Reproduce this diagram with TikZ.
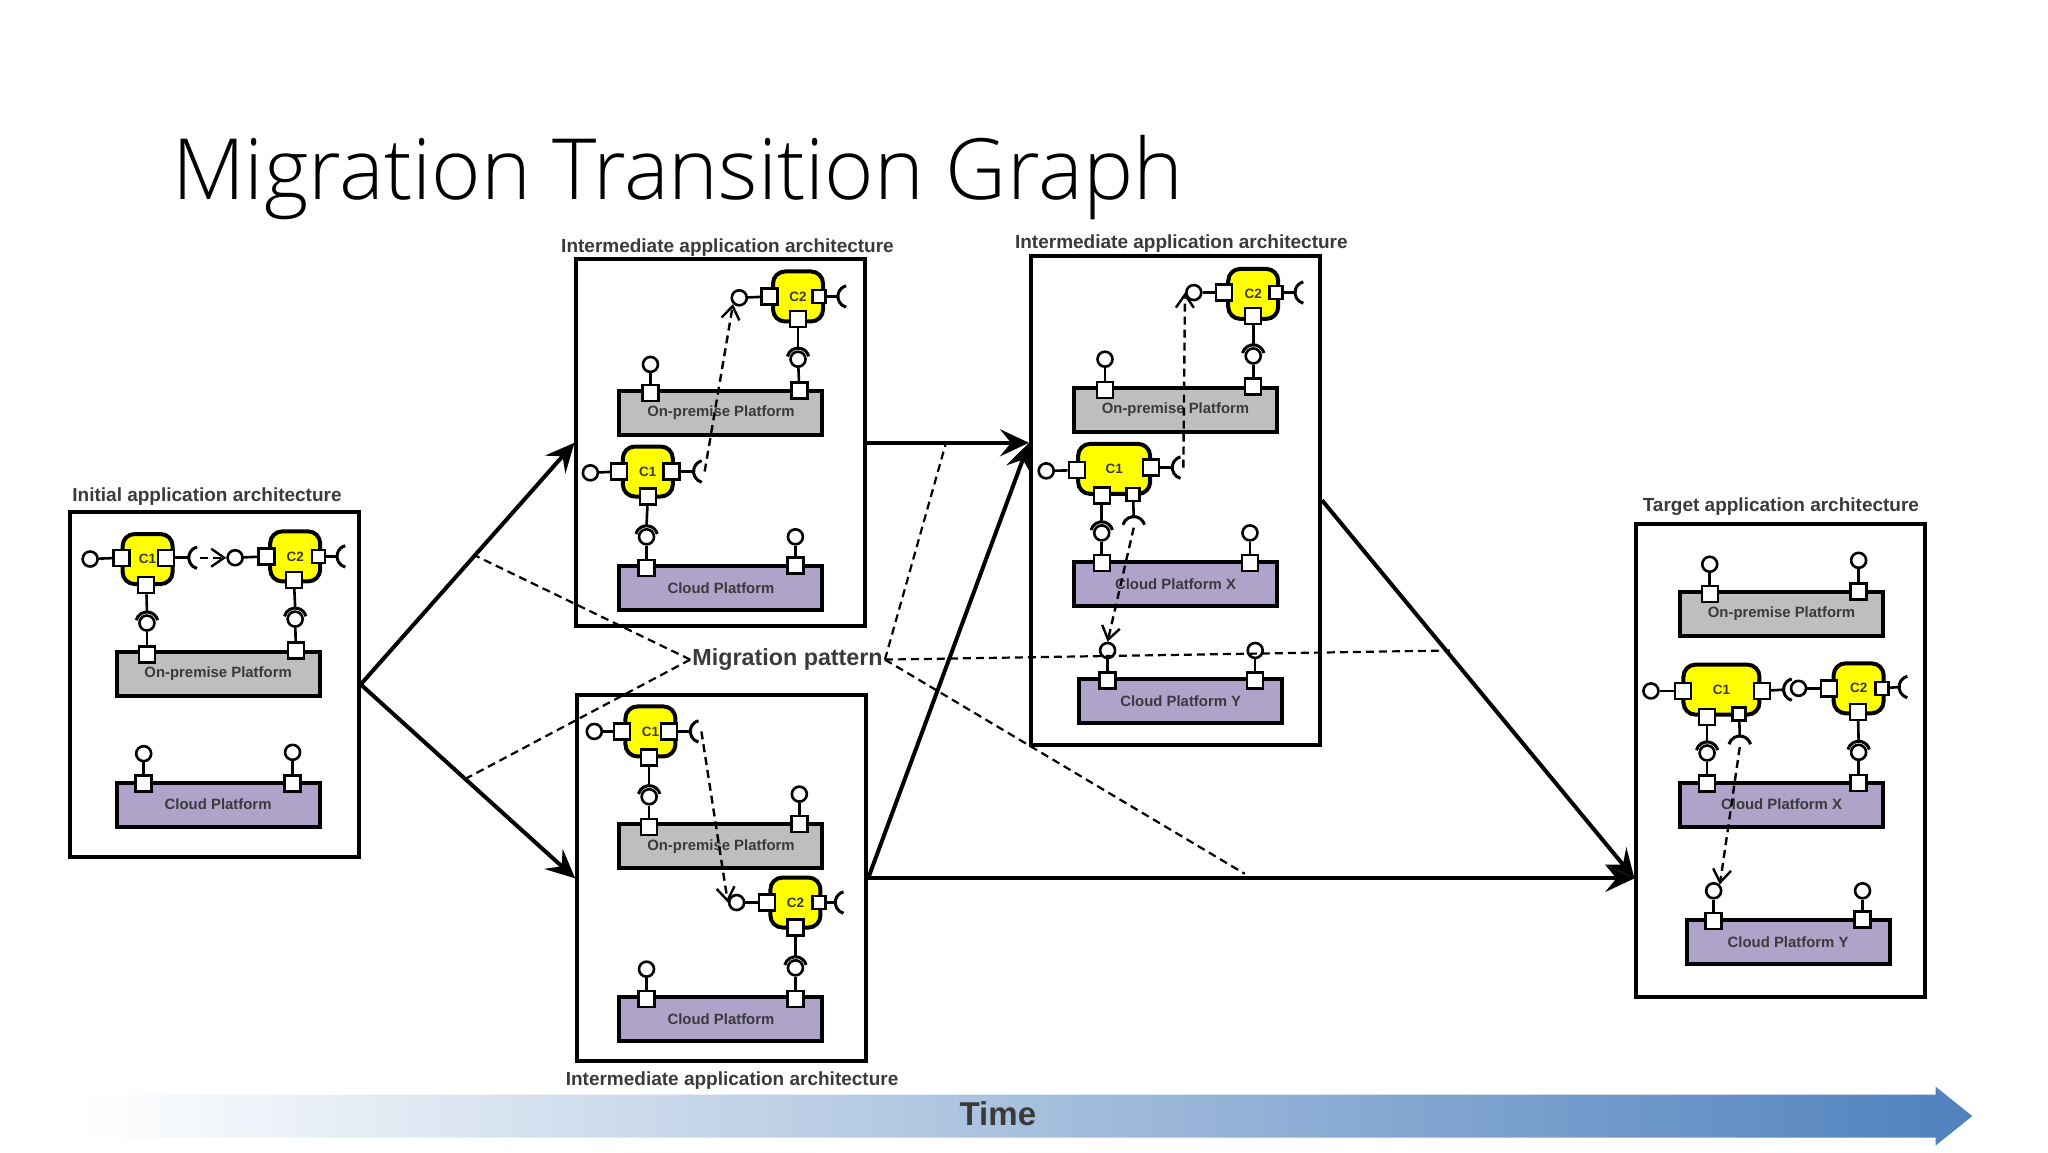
\documentclass[tikz,border=0pt]{standalone}
\usepackage{fontspec}
\setmainfont{Liberation Sans}
\newfontfamily\headfont{Open Sans Light}
\usetikzlibrary{arrows.meta,calc}
\definecolor{gridgray}{HTML}{BEBEBE}
\definecolor{cloudlilac}{HTML}{AFA3C9}
\definecolor{labelgray}{HTML}{3A3A3A}
\definecolor{timeblue}{HTML}{4F81BD}
\definecolor{compyellow}{RGB}{255,255,0}
\tikzset{
  frame/.style={draw,line width=4pt,fill=white,minimum width=289pt},
  archname/.style={font=\bfseries\fontsize{19}{21}\selectfont,text=labelgray},
  onprem/.style={draw,line width=4pt,fill=gridgray,minimum width=203pt,minimum height=44pt,
    font=\bfseries\fontsize{14.9}{16}\selectfont,text=labelgray},
  cloudbox/.style={onprem,fill=cloudlilac},
  comp/.style={draw,line width=4pt,fill=compyellow,rounded corners=12pt,minimum width=50pt,minimum height=50pt,
    font=\bfseries\fontsize{13.5}{15}\selectfont,text=labelgray},
  pinbox/.style={draw,line width=2.4pt,fill=white,minimum size=16pt,inner sep=0pt},
  pinsmall/.style={pinbox,minimum size=13pt},
  ball/.style={draw,circle,line width=2.6pt,fill=white,minimum size=15pt,inner sep=0pt},
  wire/.style={line width=2.6pt},
  move/.style={line width=2.4pt,dash pattern=on 8pt off 5pt,-{Straight Barb[length=13pt,width=18pt]}},
  step line/.style={line width=4pt,-{Stealth[length=29pt,width=27pt,inset=11pt]}},
  pattern line/.style={line width=2.2pt,dash pattern=on 8pt off 5pt},
}
% pin with a ball: name, pin x, pin y, ball x, ball y
\newcommand{\lolli}[6][pinbox]{
  \node[#1] (#2p) at (#3,#4) {};
  \node[ball] (#2b) at (#5,#6) {};
  \draw[wire] (#2p) -- (#2b);
}
% pin with a socket: name, pin x, pin y, socket x, socket y, opening angle
\newcommand{\sockt}[7][pinbox]{
  \node[#1] (#2p) at (#3,#4) {};
  \coordinate (#2s) at (#5,#6);
  \coordinate (#2j) at ([shift={(#7+180:8.5)}]#2s);
  \draw[wire] (#2p) -- (#2j);
  \draw[wire,line width=3pt] ([shift={(#7+105:8.5)}]#2s) arc[start angle=#7+105,end angle=#7+255,radius=8.5];
}
\begin{document}
\begin{tikzpicture}[x=1.30612pt,y=-1.30612pt]
  \useasboundingbox (0,0) rectangle (1568,882);

  \node[anchor=west,font=\headfont\fontsize{84.5}{90}\selectfont] (title) at (129,136) {Migration Transition Graph};

  % time arrow
  \shade[left color=white,right color=timeblue] (60,838) -- (1482,838) -- (1482,832) -- (1510,854.5) -- (1482,877) -- (1482,871) -- (60,871) -- cycle;
  \node[font=\bfseries\fontsize{33}{36}\selectfont,text=labelgray] (time) at (764,853) {Time};

  % the five frames
  \node[frame,minimum height=345pt] (initial) at (164,524) {};
  \node[frame,minimum height=367pt] (interA) at (552,339) {};
  \node[frame,minimum height=366pt] (interB) at (552.5,672.5) {};
  \node[frame,minimum height=489pt] (interC) at (900,383) {};
  \node[frame,minimum height=473pt] (target) at (1363.5,582) {};
  \node[archname] (initialname) at (158.5,380) {Initial application architecture};
  \node[archname] (interAname) at (557,189.5) {Intermediate application architecture};
  \node[archname] (interBname) at (560.5,827) {Intermediate application architecture};
  \node[archname] (interCname) at (904.5,186.5) {Intermediate application architecture};
  \node[archname] (targetname) at (1363.5,388) {Target application architecture};

  % initial
  \node[onprem] (premA) at (167,516) {On-premise Platform};
  \node[cloudbox] (cloudA) at (167,616) {Cloud Platform};
  \node[comp] (cA1) at (113,428) {C1};
  \node[comp] (cA2) at (226,426) {C2};
  \lolli{a1}{93}{427}{69}{428}
  \sockt{a2}{127}{427}{153}{427}{0}
  \sockt{a3}{112}{448}{112.5}{477}{90}
  \lolli{a4}{112.5}{501}{112.5}{477}
  \lolli{a5}{204}{426}{180}{427}
  \sockt[pinsmall]{a6}{244}{426}{266.5}{426}{0}
  \sockt{a7}{225}{444}{226}{474}{90}
  \lolli{a8}{226.5}{498}{226}{474}
  \lolli{a9}{110}{600}{110}{577}
  \lolli{a10}{224}{600}{224}{576}
  \draw[move] (a2s) -- (a5b);

  % intermediate, upper
  \node[onprem] (premB) at (552,316) {On-premise Platform};
  \node[cloudbox] (cloudB) at (552,450) {Cloud Platform};
  \node[comp] (cB1) at (496,361) {C1};
  \node[comp] (cB2) at (611,227) {C2};
  \lolli{b1}{589}{227}{566}{228}
  \sockt[pinsmall]{b2}{627}{227}{650}{227}{0}
  \sockt{b3}{611}{244}{611}{275}{90}
  \lolli{b4}{612}{299}{611}{275}
  \lolli{b5}{498}{301}{498}{279}
  \lolli{b6}{474}{361}{452}{362}
  \sockt{b7}{514}{361}{539.5}{361}{0}
  \sockt{b8}{496}{380}{495}{411}{90}
  \lolli{b9}{495}{435}{495}{411}
  \lolli{b10}{609}{433}{609}{411}
  \draw[move] (b7s) -- (b1b.south west);

  % intermediate, lower
  \node[onprem] (premC) at (552,648) {On-premise Platform};
  \node[cloudbox] (cloudC) at (552,780) {Cloud Platform};
  \node[comp] (cC1) at (498,560) {C1};
  \node[comp] (cC2) at (609,691) {C2};
  \lolli{c1}{476}{560}{455}{560}
  \sockt{c2}{512}{560}{537}{560}{0}
  \sockt{c3}{497}{580}{497}{610}{90}
  \lolli{c4}{497}{633}{497}{610}
  \lolli{c5}{612}{631}{612}{608}
  \lolli{c6}{587}{691}{564}{691}
  \sockt[pinsmall]{c7}{627}{691}{648}{691}{0}
  \sockt{c8}{609}{710}{609}{741}{90}
  \lolli{c9}{609}{765}{609}{741}
  \lolli{c10}{495}{765}{495}{742}
  \draw[move] (c2s) -- (c6b.west);

  % intermediate, right
  \node[onprem] (premD) at (900,314) {On-premise Platform};
  \node[cloudbox] (cloudD) at (900,447) {Cloud Platform X};
  \node[cloudbox] (cloudE) at (904,537) {Cloud Platform Y};
  \node[comp,minimum width=72pt] (cD1) at (853,359) {C1};
  \node[comp] (cD2) at (959.5,225) {C2};
  \lolli{d1}{937}{224}{914}{224}
  \sockt[pinsmall]{d2}{977}{224}{1000}{224}{0}
  \sockt{d3}{959.5}{242}{959.5}{272.5}{90}
  \lolli{d4}{959.5}{296}{959.5}{272.5}
  \lolli{d5}{846}{298.5}{846}{275}
  \lolli{d6}{824.5}{360}{801}{360.5}
  \sockt{d7}{881}{358}{906}{358}{0}
  \sockt{d8}{843.5}{379.5}{843.5}{408}{90}
  \lolli{d9}{843.5}{431}{843.5}{408}
  \sockt[pinsmall]{d10}{867.5}{378.5}{868}{404}{90}
  \lolli{d11}{957}{431}{957}{408}
  \lolli{d12}{848}{521}{848}{498}
  \lolli{d13}{961}{521}{961}{498}
  \draw[move] (d7s) -- (d1b.west);
  \draw[move] (d10s) -- (d12b.north);

  % target
  \node[onprem] (premF) at (1364,470) {On-premise Platform};
  \node[cloudbox] (cloudF) at (1364,616) {Cloud Platform X};
  \node[cloudbox] (cloudG) at (1369,721) {Cloud Platform Y};
  \node[comp,minimum width=76pt] (cF1) at (1318,528) {C1};
  \node[comp] (cF2) at (1423,527) {C2};
  \lolli{f1}{1309}{455}{1309}{432}
  \lolli{f2}{1423}{453}{1423}{429}
  \lolli{f3}{1288.5}{529}{1264}{529}
  \sockt{f4}{1349}{529}{1374}{528}{0}
  \lolli{f5}{1400.5}{527}{1377}{527}
  \sockt[pinsmall]{f6}{1441}{527}{1462.5}{526}{0}
  \sockt{f7}{1422.5}{545}{1423}{576}{90}
  \lolli{f8}{1423}{599.5}{1423}{576}
  \sockt{f9}{1307}{549}{1307}{576.5}{90}
  \lolli{f10}{1307}{600}{1307}{576.5}
  \sockt[pinsmall]{f11}{1331.5}{546.5}{1332}{572}{90}
  \lolli{f12}{1312}{705}{1312}{682}
  \lolli{f13}{1426}{704}{1426}{682}
  \draw[move] (f11s) -- (f12b.north east);

  % transitions
  \coordinate (intoC) at (interC.west |- interA.east);
  \coordinate (intoT) at (target.west |- interB.east);
  \draw[step line] (initial.east) -- (interA.west);
  \draw[step line] (initial.east) -- (interB.west);
  \draw[step line] (interA.east) -- (intoC);
  \draw[step line] (interB.east) -- (intoC);
  \draw[step line] (interB.east) -- (intoT);
  \draw[step line] (interC.east) -- (intoT);

  % pattern
  \node[font=\bfseries\fontsize{23.3}{25}\selectfont,text=labelgray,inner sep=2pt] (pattern) at (603,505) {Migration pattern};
  \coordinate (pa) at (363,425);
  \coordinate (pb) at (355,597);
  \coordinate (pc) at (724,340);
  \coordinate (pd) at (1110,498);
  \coordinate (pe) at (953,669);
  \draw[pattern line] (pattern.west) -- (pa);
  \draw[pattern line] (pattern.west) -- (pb);
  \draw[pattern line] (pattern.east) -- (pc);
  \draw[pattern line] (pattern.east) -- (pd);
  \draw[pattern line] (pattern.east) -- (pe);
\end{tikzpicture}
\end{document}
